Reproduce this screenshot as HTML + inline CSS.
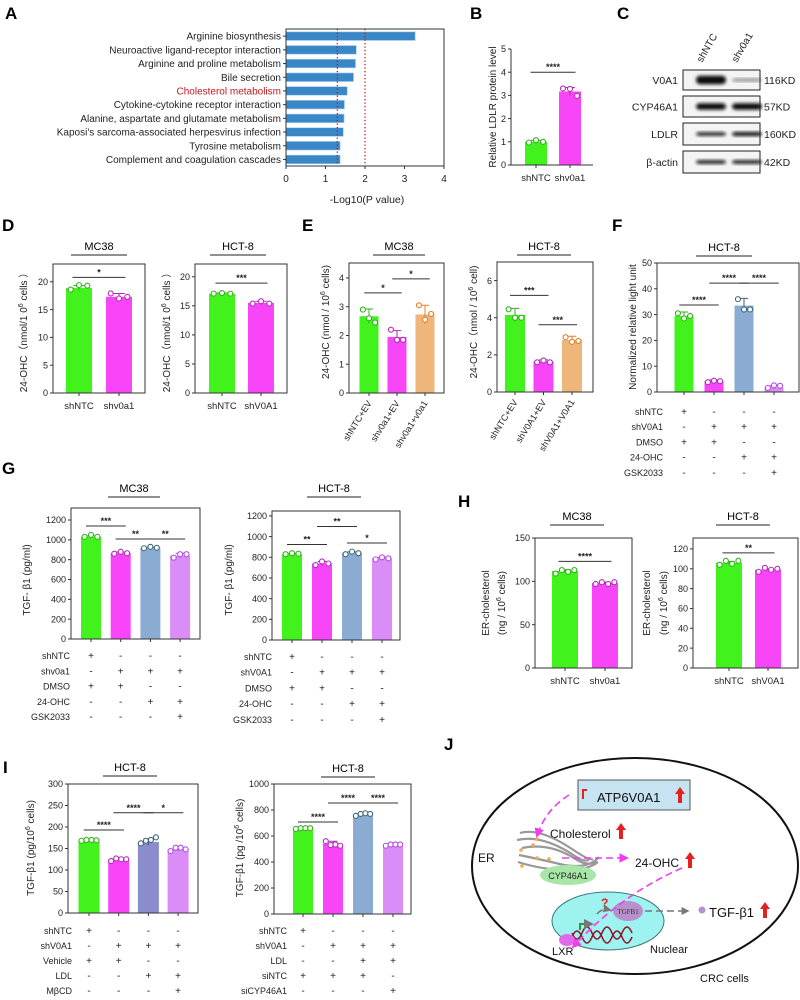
<!DOCTYPE html>
<html><head><meta charset="utf-8"><style>
body{margin:0;background:#fff}
svg{display:block;font-family:"Liberation Sans",sans-serif}
</style></head><body>
<svg id="fig" width="800" height="1000" viewBox="0 0 800 1000" xmlns="http://www.w3.org/2000/svg">
<defs><filter id="blur" x="-20%" y="-50%" width="140%" height="200%"><feGaussianBlur stdDeviation="1.6"/></filter>
<marker id="mag" viewBox="0 0 10 10" refX="8" refY="5" markerWidth="6" markerHeight="6" orient="auto"><path d="M0,0 L10,5 L0,10 z" fill="#f03cf0"/></marker>
<marker id="gry" viewBox="0 0 10 10" refX="8" refY="5" markerWidth="5" markerHeight="5" orient="auto"><path d="M0,0 L10,5 L0,10 z" fill="#777"/></marker>
</defs>
</svg>
<script>
// ---------- DATA ----------
const aCats=["Arginine biosynthesis","Neuroactive ligand-receptor interaction","Arginine and proline metabolism","Bile secretion","Cholesterol metabolism","Cytokine-cytokine receptor interaction","Alanine, aspartate and glutamate metabolism","Kaposi's sarcoma-associated herpesvirus infection","Tyrosine metabolism","Complement and coagulation cascades"];
const aVals=[3.27,1.78,1.76,1.71,1.55,1.48,1.47,1.45,1.37,1.37];
const aThresh=[1.3,2];
const aTicks=[0,1,2,3,4];

const bVals=[1.0,3.17];const bSd=[0.06,0.17];const bPts=[[0.97,1.07,1.0],[3.3,3.28,2.98]];const bTicks=[0,1,2,3,4,5];const bSig=[[0,1,4.0,"****"]];
const d1Vals=[18.9,17.3];const d1Sd=[0.4,0.6];const d1Pts=[[18.6,19.4,19.3],[17.9,17.0,17.3]];const d1Ticks=[0,5,10,15,20];const d1Sig=[[0,1,20.8,"*"]];
const d2Vals=[17.1,15.5];const d2Sd=[0.1,0.3];const d2Pts=[[17.1,17.2,17.1],[15.4,15.8,15.4]];const d2Ticks=[0,5,10,15,20];const d2Sig=[[0,1,18.9,"***"]];
const e1Vals=[2.67,1.95,2.73];const e1Sd=[0.25,0.22,0.32];const e1Pts=[[2.9,2.6,2.45],[2.2,1.85,1.85],[3.05,2.55,2.75]];const e1Ticks=[0,1,2,3,4];const e1Sig=[[0,1,3.48,"*"],[1,2,3.97,"*"]];
const e2Vals=[4.15,1.65,2.8];const e2Sd=[0.35,0.08,0.2];const e2Pts=[[4.45,4.0,4.0],[1.6,1.7,1.6],[2.95,2.7,2.75]];const e2Ticks=[0,2,4,6];const e2Sig=[[0,1,5.2,"***"],[1,2,3.62,"***"]];
const fVals=[29.5,4.2,33.5,1.8];const fSd=[1.5,0.5,2.8,0.6];const fPts=[[30.5,28.5,29.5],[3.8,4.4,4.2],[36,32,32],[1.6,2.6,2.4]];const fTicks=[0,10,20,30,40,50];const fSig=[[0,1,33.7,"****"],[1,2,42.2,"****"],[2,3,42.2,"****"]];
const g1Vals=[1030,865,915,840];const g1Sd=[10,12,10,25];const g1Pts=[[1030,1050,1030],[860,880,865],[915,930,920],[820,855,855]];const g1Ticks=[0,200,400,600,800,1000,1200];const g1Sig=[[0,1,1139,"***"],[1,2,1008,"**"],[2,3,1008,"**"]];
const g2Vals=[830,740,840,790];const g2Sd=[8,20,12,10];const g2Pts=[[830,840,835],[725,760,740],[830,855,840],[780,800,790]];const g2Ticks=[0,200,400,600,800,1000,1200];const g2Sig=[[0,1,924,"**"],[1,2,1098,"**"],[2,3,939,"*"]];
const h1Vals=[112,98];const h1Sd=[1.5,1];const h1Pts=[[109,113,111,113],[97,99,97,99]];const h1Ticks=[0,50,100,150];const h1Sig=[[0,1,123,"****"]];
const h2Vals=[106,99];const h2Sd=[1.5,1];const h2Pts=[[104,108,105,108],[97,101,99,100]];const h2Ticks=[0,20,40,60,80,100,120];const h2Sig=[[0,1,116,"**"]];
const i1Vals=[168,125,165,148];const i1Sd=[2,3,8,4];const i1Pts=[[168,170,170,169],[121,127,125,125],[162,168,170,176],[144,152,152,148]];const i1Ticks=[0,50,100,150,200,250,300];const i1Sig=[[0,1,193,"****"],[1,2,233,"****"],[2,3,233,"*"]];
const i2Vals=[655,540,770,530];const i2Sd=[5,20,10,5];const i2Pts=[[655,660,660,660],[560,530,535,525],[755,770,775,770],[525,535,535,535]];const i2Ticks=[0,200,400,600,800,1000];const i2Sig=[[0,1,708,"****"],[1,2,854,"****"],[2,3,854,"****"]];

const tblF=["shNTC","shV0A1","DMSO","24-OHC","GSK2033"];
const tblG1=["shNTC","shv0a1","DMSO","24-OHC","GSK2033"];
const tblG2=["shNTC","shV0A1","DMSO","24-OHC","GSK2033"];
const signsFG=["+---","-+++","++--","--++","---+"];
const tblI1=["shNTC","shV0A1","Vehicle","LDL","MβCD"];
const signsI1=["+---","-+++","++--","--++","---+"];
const tblI2=["shNTC","shV0A1","LDL","siNTC","siCYP46A1"];
const signsI2=["+---","-+++","--++","+++-","---+"];

// ---------- HELPERS ----------
const NS="http://www.w3.org/2000/svg";
const svg=document.getElementById("fig");
function mk(tag,attrs,parent){const e=document.createElementNS(NS,tag);for(const k in attrs)e.setAttribute(k,attrs[k]);(parent||svg).appendChild(e);return e;}
function tx(x,y,s,attrs,parent){const e=mk("text",Object.assign({x:x,y:y},attrs||{}),parent);e.textContent=s;return e;}
const GRN="#41f21c",MAG="#f745f7",ORG="#efb67c",BLU="#8aacd3",VIO="#da8cf7",SLT="#8a8ccc";
const STK={"#41f21c":"#2fb21a","#f745f7":"#b52ab5","#efb67c":"#e37f22","#8aacd3":"#3c6678","#da8cf7":"#b44ae0","#8a8ccc":"#3c6678"};

function letter(x,y,s){const t=tx(x,y,s,{"font-size":17,"font-weight":"bold"});

}

function chart(c){
  const g=mk("g",{});
  
  
  const y=v=>c.B-v/c.max*(c.B-c.T);
  const cx=i=>c.x0+i*c.dx;
  if(c.title){const t=tx(c.tx,c.ty,c.title,{"font-size":11,"text-anchor":"middle"},g);
    
    
    const u=mk("line",{x1:c.tx-c.uw,x2:c.tx+c.uw,y1:c.ty+5,y2:c.ty+5,stroke:"#222","stroke-width":1},g);
    
    }
  c.vals.forEach((v,i)=>{
    const col=c.colors[i];
    const r=mk("rect",{x:cx(i)-c.bw/2,y:y(v),width:c.bw,height:c.B-y(v),fill:col},g);
    
    
    const s=STK[col];
    const e=mk("path",{d:`M${cx(i)},${y(v-c.sd[i])}V${y(v+c.sd[i])}M${cx(i)-c.bw*0.22},${y(v+c.sd[i])}H${cx(i)+c.bw*0.22}`,stroke:s,"stroke-width":1,fill:"none"},g);
    
    
    const n=c.pts[i].length;
    c.pts[i].forEach((p,k)=>{
      const d=mk("circle",{cx:cx(i)+(k-(n-1)/2)*c.bw*(n>3?0.24:0.32),cy:y(p),r:2.5,fill:"#fff",stroke:s,"stroke-width":1.1},g);
      
      
    });
  });
  const ax=mk("path",{d:c.frame?`M${c.L},${c.T}V${c.B}H${c.R}V${c.T}Z`:`M${c.L},${c.T}V${c.B}H${c.R}`,stroke:"#333","stroke-width":1,fill:"none"},g);
  
  
  c.ticks.forEach(t=>{
    const l=mk("line",{x1:c.L-3,x2:c.L,y1:y(t),y2:y(t),stroke:"#333"},g);
    
    
    const lb=tx(c.L-5,y(t)+3.2,String(t),{"font-size":9,"text-anchor":"end",fill:"#222"},g);
    
    
  });
  c.vals.forEach((v,i)=>{
    const l=mk("line",{x1:cx(i),x2:cx(i),y1:c.B,y2:c.B+3,stroke:"#333"},g);
    
    
  });
  if(c.xl){c.xl.forEach((s,i)=>{
    let t;
    if(c.rot){t=tx(cx(i)+3,c.B+10,s,{"font-size":9,"text-anchor":"end",transform:`rotate(-58 ${cx(i)+3} ${c.B+10})`,fill:"#222"},g);}
    else{t=tx(cx(i),c.B+16,s,{"font-size":9.5,"text-anchor":"middle",fill:"#222"},g);}
    
    
  });}
  c.sig.forEach(s=>{
    const a=cx(s[0])-c.bw*0.25,b=cx(s[1])+c.bw*0.25,yy=y(s[2]);
    const l=mk("line",{x1:a,x2:b,y1:yy,y2:yy,stroke:"#333","stroke-width":1},g);
    
    
    const t=tx((a+b)/2,yy-2,s[3],{"font-size":9,"text-anchor":"middle","font-weight":"bold",fill:"#222"},g);
    
    
  });
  c.yl.forEach((s,k)=>{
    const t=mk("text",{x:0,y:0,"font-size":10,"text-anchor":"middle",transform:`translate(${c.ylx[k]},${c.yly}) rotate(-90)`,fill:"#222"},g);
    t.innerHTML=s;
    
    
  });
  if(c.tbl){c.tbl.forEach((row,r)=>{
    const yy=c.tby+r*c.tbd;
    const t=tx(c.tbx,yy,row,{"font-size":9,"text-anchor":"end",fill:"#222"},g);
    
    
    c.signs[r].split("").forEach((sg,i)=>{
      const m=tx(cx(i),yy,sg,{"font-size":10,"text-anchor":"middle",fill:"#222"},g);
      
      
    });
  });}
}

// ---------- PANEL A ----------
(function(){
  const L=286,R=444,T=29,B=166,max=4;
  const g=mk("g",{});
  
  
  const x=v=>L+v/max*(R-L);
  const step=(B-T)/aCats.length;
  aCats.forEach((c,i)=>{
    const yc=T+step*(i+0.5)+0.3;
    const r=mk("rect",{x:L,y:yc-4.3,width:x(aVals[i])-L,height:8.6,fill:"#3a87c8",stroke:"#a7cdee","stroke-width":0.6},g);
    
    
    const tk=mk("line",{x1:L-3,x2:L,y1:yc,y2:yc,stroke:"#333"},g);
    
    
    const t=tx(L-5,yc+3.5,c,{"font-size":10,"text-anchor":"end",fill:i===4?"#c0191f":"#222"},g);
    
    
  });
  aThresh.forEach(v=>{
    const l=mk("line",{x1:x(v),x2:x(v),y1:T,y2:B,stroke:"#c0191f","stroke-width":1.3,"stroke-dasharray":"1.3 2.2"},g);
    
    
  });
  const ax=mk("path",{d:`M${L},${T}V${B}H${R}V${T}Z`,fill:"none",stroke:"#333"},g);
  
  
  aTicks.forEach(t=>{
    const l=mk("line",{x1:x(t),x2:x(t),y1:B,y2:B+3,stroke:"#333"},g);
    
    
    const lb=tx(x(t),B+16,String(t),{"font-size":10,"text-anchor":"middle",fill:"#222"},g);
    
    
  });
  const xt=tx(367,203,"-Log10(P value)",{"font-size":10.5,"text-anchor":"middle",fill:"#222"},g);
  
  
})();
letter(5,19,"A");letter(470,19,"B");letter(617,19,"C");
letter(2,231,"D");letter(302,231,"E");letter(612,231,"F");
letter(2,474,"G");letter(458,507,"H");letter(3,773,"I");letter(444,750,"J");

// ---------- CHARTS ----------
chart({name:"panel-b-ldlr",L:511,R:593,T:49,B:165,max:5,ticks:bTicks,x0:536,dx:34,bw:22,vals:bVals,sd:bSd,pts:bPts,colors:[GRN,MAG],sig:bSig,xl:["shNTC","shv0a1"],frame:false,yl:["Relative LDLR protein level"],ylx:[496],yly:107});
chart({name:"panel-d-mc38",L:53,R:145,T:264,B:393,max:23.2,ticks:d1Ticks,x0:79,dx:40,bw:26,vals:d1Vals,sd:d1Sd,pts:d1Pts,colors:[GRN,MAG],sig:d1Sig,xl:["shNTC","shv0a1"],frame:true,title:"MC38",tx:99,ty:250,uw:28,yl:["24-OHC（nmol/1 0<tspan dy='-4' font-size='7'>6</tspan><tspan dy='4'> cells ）</tspan>"],ylx:[27],yly:330});
chart({name:"panel-d-hct8",L:195,R:287,T:264,B:393,max:22.2,ticks:d2Ticks,x0:222,dx:39,bw:26,vals:d2Vals,sd:d2Sd,pts:d2Pts,colors:[GRN,MAG],sig:d2Sig,xl:["shNTC","shV0A1"],frame:true,title:"HCT-8",tx:238,ty:250,uw:28,yl:["24-OHC（nmol/1 0<tspan dy='-4' font-size='7'>6</tspan><tspan dy='4'> cells ）</tspan>"],ylx:[170],yly:330});
chart({name:"panel-e-mc38",L:349,R:444,T:263,B:393,max:4.52,ticks:e1Ticks,x0:369,dx:28,bw:19,vals:e1Vals,sd:e1Sd,pts:e1Pts,colors:[GRN,MAG,ORG],sig:e1Sig,xl:["shNTC+EV","shv0a1+EV","shv0a1+v0a1"],rot:true,frame:true,title:"MC38",tx:399,ty:250,uw:26,yl:["24-OHC (nmol / 10<tspan dy='-4' font-size='7'>6</tspan><tspan dy='4'> cells)</tspan>"],ylx:[329],yly:322});
chart({name:"panel-e-hct8",L:497,R:593,T:262,B:392,max:7.0,ticks:e2Ticks,x0:515,dx:28.5,bw:20,vals:e2Vals,sd:e2Sd,pts:e2Pts,colors:[GRN,MAG,ORG],sig:e2Sig,xl:["shNTC+EV","shV0A1+EV","shV0A1+V0A1"],rot:true,frame:true,title:"HCT-8",tx:544,ty:250,uw:27,yl:["24-OHC（nmol / 10<tspan dy='-4' font-size='7'>6</tspan><tspan dy='4'> cell)</tspan>"],ylx:[477],yly:322});
chart({name:"panel-f-lxr",L:657,R:799,T:263,B:392,max:50,ticks:fTicks,x0:684,dx:30,bw:19,vals:fVals,sd:fSd,pts:fPts,colors:[GRN,MAG,BLU,VIO],sig:fSig,frame:true,title:"HCT-8",tx:724,ty:251,uw:28,yl:["Normalized relative light unit"],ylx:[636],yly:327,tbl:tblF,signs:signsFG,tbx:663,tby:415,tbd:15.2});
chart({name:"panel-g-mc38",L:71,R:200,T:508,B:639,max:1321,ticks:g1Ticks,x0:91,dx:29.7,bw:20,vals:g1Vals,sd:g1Sd,pts:g1Pts,colors:[GRN,MAG,BLU,VIO],sig:g1Sig,frame:true,title:"MC38",tx:134,ty:492,uw:26,yl:["TGF- β1  (pg/ml)"],ylx:[30],yly:580,tbl:tblG1,signs:signsFG,tbx:70,tby:659,tbd:15.3});
chart({name:"panel-g-hct8",L:272,R:400,T:511,B:640,max:1248,ticks:g2Ticks,x0:292,dx:30,bw:20,vals:g2Vals,sd:g2Sd,pts:g2Pts,colors:[GRN,MAG,BLU,VIO],sig:g2Sig,frame:true,title:"HCT-8",tx:334,ty:492,uw:27,yl:["TGF- β1  (pg/ml)"],ylx:[232],yly:580,tbl:tblG2,signs:signsFG,tbx:272,tby:660,tbd:15.7});
chart({name:"panel-h-mc38",L:535,R:632,T:538,B:668,max:150,ticks:h1Ticks,x0:565,dx:40,bw:26,vals:h1Vals,sd:h1Sd,pts:h1Pts,colors:[GRN,MAG],sig:h1Sig,xl:["shNTC","shv0a1"],frame:true,title:"MC38",tx:577,ty:520,uw:27,yl:["ER-cholesterol","(ng / 10<tspan dy='-4' font-size='7'>6</tspan><tspan dy='4'> cells)</tspan>"],ylx:[489,505],yly:603});
chart({name:"panel-h-hct8",L:693,R:798,T:538,B:668,max:131,ticks:h2Ticks,x0:729,dx:39,bw:26,vals:h2Vals,sd:h2Sd,pts:h2Pts,colors:[GRN,MAG],sig:h2Sig,xl:["shNTC","shV0A1"],frame:true,title:"HCT-8",tx:743,ty:520,uw:27,yl:["ER-cholesterol","(ng / 10<tspan dy='-4' font-size='7'>6</tspan><tspan dy='4'> cells)</tspan>"],ylx:[650,667],yly:603});
chart({name:"panel-i-ldl",L:68,R:198,T:784,B:913,max:300,ticks:i1Ticks,x0:89,dx:29.7,bw:21,vals:i1Vals,sd:i1Sd,pts:i1Pts,colors:[GRN,MAG,SLT,VIO],sig:i1Sig,frame:true,title:"HCT-8",tx:130,ty:771,uw:27,yl:["TGF-β1   (pg/10<tspan dy='-4' font-size='7'>6</tspan><tspan dy='4'> cells)</tspan>"],ylx:[34],yly:848,tbl:tblI1,signs:signsI1,tbx:72,tby:934,tbd:15});
chart({name:"panel-i-cyp46a1",L:274,R:411,T:784,B:914,max:1000,ticks:i2Ticks,x0:303,dx:30,bw:20,vals:i2Vals,sd:i2Sd,pts:i2Pts,colors:[GRN,MAG,BLU,VIO],sig:i2Sig,frame:true,title:"HCT-8",tx:348,ty:772,uw:27,yl:["TGF-β1  (pg /10<tspan dy='-4' font-size='7'>6</tspan><tspan dy='4'> cells)</tspan>"],ylx:[243],yly:848,tbl:tblI2,signs:signsI2,tbx:287,tby:934,tbd:15});

// ---------- PANEL C (western blot) ----------
(function(){
  const g=mk("g",{});
  
  
  const rows=[["V0A1",70,90,"116KD"],["CYP46A1",96,117,"57KD"],["LDLR",123,145,"160KD"],["β-actin",151,173,"42KD"]];
  const bands=[[[9,4.2,1],[3,1.5,0.45]],[[6,3.2,1],[6,3.2,1]],[[4,1.8,0.95],[4.5,2,1]],[[4,1.8,1],[4,1.8,1]]];
  rows.forEach((r,k)=>{
    const b=mk("rect",{x:683,y:r[1],width:77,height:r[2]-r[1],fill:"#f4f4f4",stroke:"#222","stroke-width":1},g);
    
    
    const yc=(r[1]+r[2])/2;
    [711,747].forEach((x,j)=>{
      const bd=bands[k][j];
      const e=mk("rect",{x:x-15,y:yc-bd[1],width:30,height:bd[1]*2,rx:4,fill:"#111",opacity:bd[2],filter:"url(#blur)"},g);
      
      
    });
    const t=tx(678,yc+4,r[0],{"font-size":10.5,"text-anchor":"end",fill:"#222"},g);
    
    
    const kd=tx(764,yc+4,r[3],{"font-size":10.5,fill:"#222"},g);
    
    
  });
  [["shNTC",702],["shv0a1",737]].forEach(c=>{
    const t=tx(c[1],63,c[0],{"font-size":10,transform:`rotate(-60 ${c[1]} 63)`,fill:"#222"},g);
    
    
  });
})();

// ---------- PANEL J (schematic) ----------
(function(){
  const g=mk("g",{});
  
  
  const cell=mk("ellipse",{cx:635,cy:866,rx:163,ry:108,fill:"none",stroke:"#111","stroke-width":2},g);
  
  
  const box=mk("rect",{x:578,y:780,width:112,height:30,fill:"#c6e3f1",stroke:"#555","stroke-width":1},g);
  
  
  const rk=mk("path",{d:"M582,789 h5 v2 h-3 v8 h-2 z",fill:"#e52020"},g);
  
  
  const items=[["ATP6V0A1",597,802,13],["Cholesterol",550,838,12],["ER",478,862,12],["24-OHC",635,867,12],["TGF-β1",709,917,13],["LXR",552,955,11],["Nuclear",650,953,11],["CRC cells",700,982,11]];
  items.forEach(it=>{
    const t=tx(it[1],it[2],it[0],{"font-size":it[3],fill:"#111"},g);
    
    
  });
  [[680,795],[621,831],[690,860],[765,910]].forEach(p=>{
    const a=mk("path",{d:`M${p[0]},${p[1]-8} l5,7 h-3 v9 h-4 v-9 h-3 z`,fill:"#e52020"},g);
    
    
  });
  const er=mk("path",{d:"M520,833 q20,-6 55,18 q15,10 18,8 M517,840 q25,-6 58,16 q8,6 14,4 M522,848 q28,-6 55,12 q10,6 20,2 M519,855 q20,4 45,10 q25,4 35,-8 M518,862 q25,8 50,8 q20,0 30,-8",fill:"none",stroke:"#999","stroke-width":2.2},g);
  
  
  [[533,845],[537,839],[521,850],[537,858],[549,859],[522,866]].forEach(p=>{
    const d=mk("circle",{cx:p[0],cy:p[1],r:1.8,fill:"#f2a850"},g);
    
    
  });
  const cyp=mk("ellipse",{cx:568,cy:875,rx:28,ry:10,fill:"#a8e6a8"},g);
  
  
  const cypt=tx(568,879,"CYP46A1",{"font-size":9,"text-anchor":"middle",fill:"#222"},g);
  
  
  const nuc=mk("ellipse",{cx:608,cy:921,rx:56,ry:29,fill:"#9ef2ef",stroke:"#3a7a7a","stroke-width":1},g);
  
  
  const dna=mk("path",{d:"M572,937 q5,-12 10,0 t10,0 t10,0 t10,0 t10,0 t10,0 M572,933 q5,12 10,0 t10,0 t10,0 t10,0 t10,0 t10,0",fill:"none",stroke:"#8a1a2a","stroke-width":1.6},g);
  
  
  const lxr=mk("ellipse",{cx:567,cy:940,rx:8,ry:6,fill:"#e06ae8"},g);
  
  
  const tg=mk("ellipse",{cx:628,cy:911,rx:15,ry:10,fill:"#b890cc"},g);
  
  
  const tgt=tx(628,914,"TGFB1",{"font-size":7,"text-anchor":"middle","font-family":"Liberation Serif,serif",fill:"#333"},g);
  
  
  const q=tx(601,907,"?",{"font-size":12,"font-weight":"bold",fill:"#e52020"},g);
  
  
  const ga=mk("path",{d:"M580,930 v-6 h12",fill:"none",stroke:"#2a9a3a","stroke-width":2,"marker-end":"url(#gry)"},g);
  
  
  const arrows=[["M569,795 Q545,810 537,836","#f03cf0","mag"],["M562,858 L627,858","#f03cf0","mag"],["M682,868 Q620,895 573,947","#f03cf0","mag"],["M645,911 L688,911","#777","gry"],["M597,914 q5,-6 13,-4","#777","gry"]];
  arrows.forEach(a=>{
    const p=mk("path",{d:a[0],fill:"none",stroke:a[1],"stroke-width":1.6,"stroke-dasharray":"7 4","marker-end":`url(#${a[2]})`},g);
    
    
  });
  const pd=mk("circle",{cx:702,cy:910,r:3.5,fill:"#b890cc"},g);
  
  
})();
</script>
</body></html>
